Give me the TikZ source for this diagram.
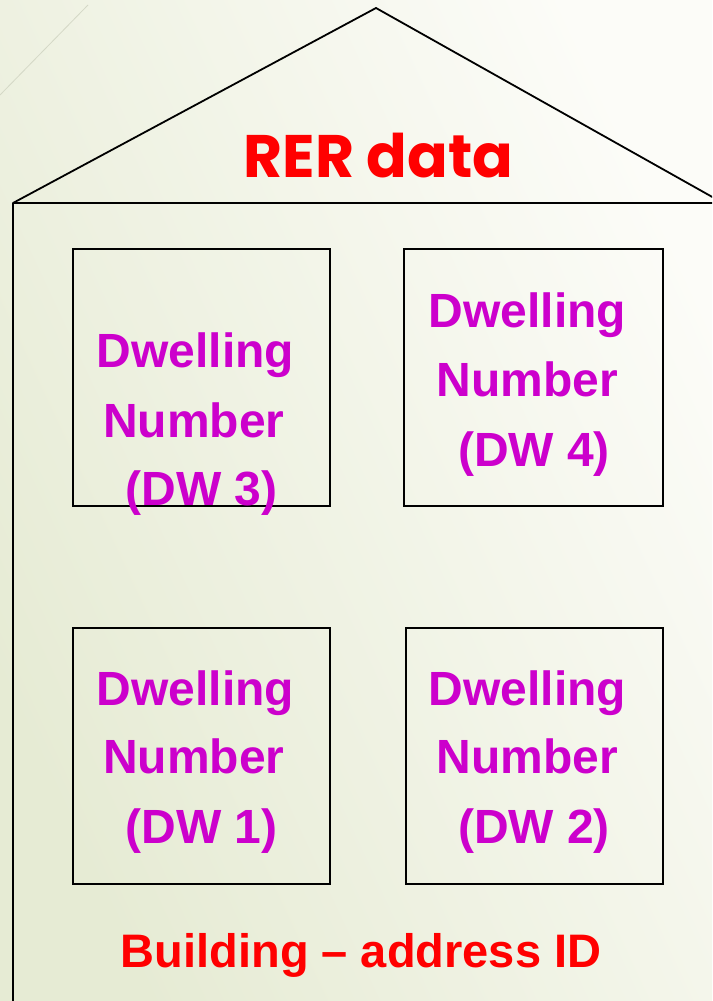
\documentclass[tikz,border=0pt]{standalone}
\usepackage{fontspec}
\setmainfont{Liberation Sans}
\newfontfamily\titlefont{Poppins}
\definecolor{bgleft}{RGB}{230,235,212}
\definecolor{bgright}{RGB}{252,252,248}
\definecolor{dwmag}{RGB}{204,0,204}
\definecolor{faint}{RGB}{212,216,198}
\tikzset{
  wall/.style={draw=black, line width=1.8pt},
  dwbox/.style={draw=black, line width=1.7pt, rectangle, inner sep=0pt},
  dwtext/.style={anchor=base, inner sep=0pt, text=dwmag,
    font=\fontsize{48}{58}\selectfont\bfseries},
  redtext/.style={anchor=base, inner sep=0pt, text=red}
}
\begin{document}
\begin{tikzpicture}[x=1pt, y=-1pt]
  \useasboundingbox (0,0) rectangle (712,1001);
  % background
  \shade[shading=axis, top color=bgright, bottom color=bgleft, shading angle=-65]
    (0,0) rectangle (712,1001);
  \draw[faint, line width=0.8pt] (0,95) -- (88,5);

  % house outline
  \begin{scope}
    \clip (0,0) rectangle (712,1001);
    \coordinate (base) at (13,1010);
    \coordinate (eaveL) at (13,203);
    \coordinate (apex) at (376,8);
    \coordinate (eaveR) at (723,203);
    \draw[wall, line join=round] (base) -- (eaveL) -- (apex) -- (eaveR);
    \draw[wall] (eaveL) -- (eaveR);
  \end{scope}

  % dwelling boxes
  \node[dwbox, minimum width=257pt, minimum height=257pt] (dw3) at (201.5,377.5) {};
  \node[dwbox, minimum width=259pt, minimum height=257pt] (dw4) at (533.5,377.5) {};
  \node[dwbox, minimum width=257pt, minimum height=256pt] (dw1) at (201.5,756) {};
  \node[dwbox, minimum width=257pt, minimum height=256pt] (dw2) at (534.5,756) {};

  % dwelling labels
  \node[dwtext] (dw3a) at (195.5,367) {Dwelling};
  \node[dwtext] (dw3b) at (194,437) {Number};
  \node[dwtext] (dw3c) at (201.5,505) {(DW 3)};

  \node[dwtext] (dw4a) at (527.5,327) {Dwelling};
  \node[dwtext] (dw4b) at (527.5,396) {Number};
  \node[dwtext] (dw4c) at (534,466) {(DW 4)};

  \node[dwtext] (dw1a) at (195.5,705) {Dwelling};
  \node[dwtext] (dw1b) at (194,773) {Number};
  \node[dwtext] (dw1c) at (201.5,843) {(DW 1)};

  \node[dwtext] (dw2a) at (527.5,705) {Dwelling};
  \node[dwtext] (dw2b) at (527.5,773) {Number};
  \node[dwtext] (dw2c) at (534,843) {(DW 2)};

  % titles
  \node[redtext, font=\titlefont\fontsize{60}{70}\selectfont\bfseries] (rer) at (378.5,177) {RER data};
  \node[redtext, font=\fontsize{47}{56}\selectfont\bfseries] (bld) at (361,967) {Building – address ID};
\end{tikzpicture}
\end{document}
